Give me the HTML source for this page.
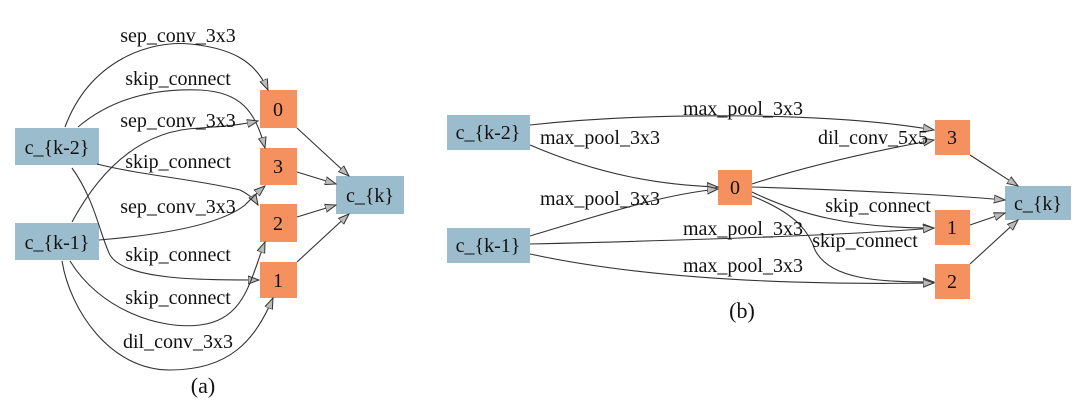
<!DOCTYPE html>
<html><head><meta charset="utf-8"><style>
html,body{margin:0;padding:0;background:#fff;width:1080px;height:414px;overflow:hidden}
text{font-family:"Liberation Serif",serif;font-size:20px;fill:#111}
.c{fill:#9bbccd}.o{fill:#f4915f}
path{fill:none;stroke:#333;stroke-width:1.1}
</style></head><body>
<svg width="1080" height="414" viewBox="0 0 1080 414">
<defs><marker id="a" markerWidth="12" markerHeight="10" refX="11" refY="5" orient="auto" markerUnits="userSpaceOnUse"><path d="M0,1 L11,5 L0,9 Z" style="fill:#bbb;stroke:#333;stroke-width:1"/></marker></defs>
<!-- (a) -->
<g>
<rect class="c" x="15" y="128" width="84" height="37"/><text x="57" y="154" text-anchor="middle">c_{k-2}</text>
<rect class="c" x="15" y="223" width="84" height="37"/><text x="57" y="249" text-anchor="middle">c_{k-1}</text>
<rect class="o" x="260" y="90" width="37" height="38"/><text x="278" y="116" text-anchor="middle">0</text>
<rect class="o" x="260" y="148" width="37" height="37"/><text x="278" y="173" text-anchor="middle">3</text>
<rect class="o" x="260" y="204" width="37" height="38"/><text x="278" y="230" text-anchor="middle">2</text>
<rect class="o" x="260" y="262" width="37" height="36"/><text x="278" y="287" text-anchor="middle">1</text>
<rect class="c" x="336" y="176" width="68" height="38"/><text x="370" y="202" text-anchor="middle">c_{k}</text>
<path marker-end="url(#a)" d="M65,127 C90,60 150,40 190,44 C230,48 255,60 268,90"/>
<path marker-end="url(#a)" d="M78,127 C110,100 150,88 200,90 C240,92 255,110 265,148"/>
<path marker-end="url(#a)" d="M72,222 C100,170 140,130 200,128 C230,126 245,124 258,121"/>
<path marker-end="url(#a)" d="M97,164 C140,175 200,180 240,190 C250,195 255,200 258,205"/>
<path marker-end="url(#a)" d="M99,240 C160,235 220,225 245,205 C252,198 258,192 265,186"/>
<path marker-end="url(#a)" d="M72,168 C95,200 100,235 110,255 C125,280 200,280 259,280"/>
<path marker-end="url(#a)" d="M70,261 C100,310 160,330 200,325 C245,320 250,280 265,242"/>
<path marker-end="url(#a)" d="M62,261 C70,310 110,370 170,370 C230,370 255,340 273,298"/>
<path marker-end="url(#a)" d="M297,128 L349,176"/>
<path marker-end="url(#a)" d="M297,172 L336,184"/>
<path marker-end="url(#a)" d="M297,217 L336,205"/>
<path marker-end="url(#a)" d="M297,262 L349,214"/>
<g text-anchor="middle"><text x="178" y="42">sep_conv_3x3</text><text x="178" y="85">skip_connect</text><text x="178" y="127">sep_conv_3x3</text><text x="178" y="168">skip_connect</text><text x="178" y="213">sep_conv_3x3</text><text x="178" y="261">skip_connect</text><text x="178" y="304">skip_connect</text><text x="178" y="348">dil_conv_3x3</text><text x="203" y="393" style="font-size:22px">(a)</text></g>
</g>
<!-- (b) -->
<g>
<rect class="c" x="447" y="115" width="83" height="35"/><text x="488" y="139" text-anchor="middle">c_{k-2}</text>
<rect class="c" x="447" y="228" width="83" height="35"/><text x="488" y="252" text-anchor="middle">c_{k-1}</text>
<rect class="o" x="718" y="170" width="34" height="35"/><text x="735" y="194" text-anchor="middle">0</text>
<rect class="o" x="935" y="120" width="35" height="35"/><text x="952" y="144" text-anchor="middle">3</text>
<rect class="o" x="935" y="210" width="35" height="35"/><text x="952" y="234" text-anchor="middle">1</text>
<rect class="o" x="935" y="264" width="35" height="35"/><text x="952" y="288" text-anchor="middle">2</text>
<rect class="c" x="1005" y="186" width="66" height="34"/><text x="1038" y="210" text-anchor="middle">c_{k}</text>
<path marker-end="url(#a)" d="M530,125 C650,112 830,112 934,130"/>
<path marker-end="url(#a)" d="M530,145 C600,175 660,185 718,187"/>
<path marker-end="url(#a)" d="M530,236 C600,215 660,195 718,189"/>
<path marker-end="url(#a)" d="M752,184 C810,165 880,150 934,140"/>
<path marker-end="url(#a)" d="M752,187 C850,190 950,195 1005,200"/>
<path marker-end="url(#a)" d="M752,192 C800,215 850,228 934,228"/>
<path marker-end="url(#a)" d="M752,196 C800,215 810,235 815,250 C830,280 880,282 934,282"/>
<path marker-end="url(#a)" d="M530,244 C700,240 850,235 934,228"/>
<path marker-end="url(#a)" d="M530,254 C650,280 800,285 934,283"/>
<path marker-end="url(#a)" d="M970,155 L1018,186"/>
<path marker-end="url(#a)" d="M970,225 L1005,213"/>
<path marker-end="url(#a)" d="M970,264 L1018,220"/>
<g text-anchor="middle"><text x="743" y="115">max_pool_3x3</text><text x="600" y="144">max_pool_3x3</text><text x="873" y="144">dil_conv_5x5</text><text x="600" y="205">max_pool_3x3</text><text x="878" y="212">skip_connect</text><text x="743" y="235">max_pool_3x3</text><text x="865" y="247">skip_connect</text><text x="743" y="272">max_pool_3x3</text><text x="742" y="318" style="font-size:22px">(b)</text></g>
</g>
</svg>
</body></html>
